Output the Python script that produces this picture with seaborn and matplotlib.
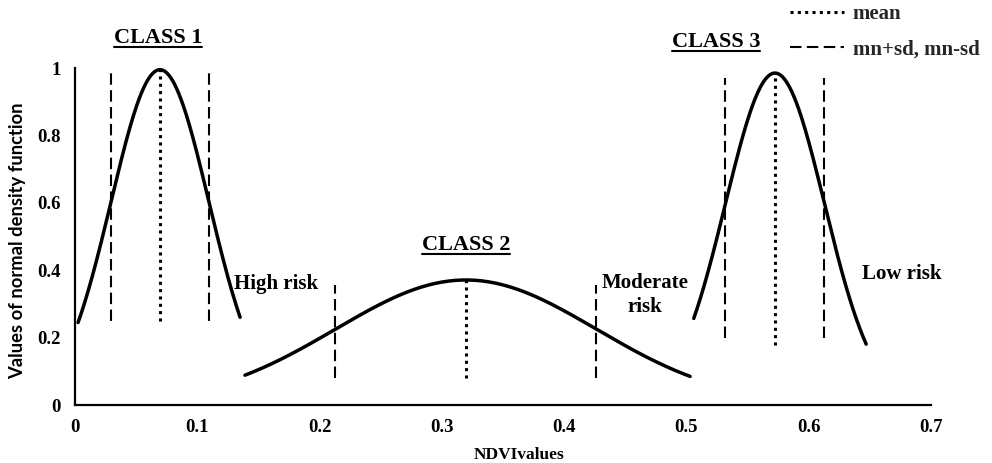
import numpy as np
import pandas as pd
import matplotlib
matplotlib.use("Agg")
import matplotlib.pyplot as plt
from matplotlib.lines import Line2D
from matplotlib.transforms import IdentityTransform
import seaborn as sns

# ---- data ----
classes = ["CLASS 1", "CLASS 2", "CLASS 3"]
means = [0.0695, 0.3197, 0.5724]
sds = [0.0400, 0.1067, 0.0405]
peaks = [0.995, 0.371, 0.985]
x_start = [0.0025, 0.139, 0.506]
x_end = [0.135, 0.503, 0.647]
line_bottom = [0.25, 0.08, 0.20]     # lower end of sd guide lines
mean_bottom = [0.25, 0.08, 0.178]    # lower end of mean guide lines
sd_top = [0.994, 0.356, 0.97]
label_pos_x = [0.068, 0.3197, 0.524]
label_pos_y = [1.089, 0.475, 1.076]
risk_labels = ["High risk", "Moderate\nrisk", "Low risk"]
risk_x = [0.130, 0.4661, 0.6435]
risk_y = [0.359, 0.326, 0.390]
risk_ha = ["left", "center", "left"]
xticks = [0, 0.1, 0.2, 0.3, 0.4, 0.5, 0.6, 0.7]
xticklabels = ["0", "0.1", "0.2", "0.3", "0.4", "0.5", "0.6", "0.7"]
yticks = [0, 0.2, 0.4, 0.6, 0.8, 1]
yticklabels = ["0", "0.2", "0.4", "0.6", "0.8", "1"]

# normal density curves (scaled to peak), evaluated on each class' x range
frames = []
for c, m, s, p, a, b in zip(classes, means, sds, peaks, x_start, x_end):
    xs = np.linspace(a, b, 200)
    frames.append(pd.DataFrame({"x": xs, "y": p * np.exp(-0.5 * ((xs - m) / s) ** 2), "cls": c}))
df = pd.concat(frames, ignore_index=True)

sns.set_theme(style="white")
serif = ["Liberation Serif", "DejaVu Serif"]
plt.rcParams["font.family"] = serif
plt.rcParams["font.weight"] = "bold"

fig = plt.figure(figsize=(9.92, 4.63), dpi=100)
ax = fig.add_axes([75 / 992, (463 - 405) / 463, 856 / 992, 337 / 463])

sns.lineplot(data=df, x="x", y="y", units="cls", estimator=None, color="black",
             lw=2.5, ax=ax, legend=False, sort=False)

for i in range(3):
    ax.vlines(means[i], mean_bottom[i], peaks[i], colors="black", lw=2.2,
              linestyles=(0, (1, 1.4)), label="mean" if i == 0 else None)
    ax.vlines([means[i] - sds[i], means[i] + sds[i]], line_bottom[i], sd_top[i],
              colors="black", lw=1.5, linestyles=(0, (5.5, 2.6)),
              label="mn+sd, mn-sd" if i == 0 else None)

ax.set_xlim(0, 0.7)
ax.set_ylim(0, 1)
ax.set_xticks(xticks)
ax.set_xticklabels(xticklabels)
ax.set_yticks(yticks)
ax.set_yticklabels(yticklabels)
ax.tick_params(axis="both", length=0, labelsize=13.5, colors="black")
ax.tick_params(axis="x", pad=10)
ax.tick_params(axis="y", pad=10)
for lab in ax.get_xticklabels() + ax.get_yticklabels():
    lab.set_fontweight("bold")

for side in ["top", "right"]:
    ax.spines[side].set_visible(False)
for side in ["left", "bottom"]:
    ax.spines[side].set_color("black")
    ax.spines[side].set_linewidth(1.6)

ax.set_xlabel("NDVIvalues", fontsize=12.5, fontweight="bold", color="black")
ax.xaxis.set_label_coords((519 - 75) / 856, -0.125)
ax.set_ylabel("Values of normal density function", fontsize=13.2, fontweight="bold",
              color="black", family=["Lato", "DejaVu Sans"])
ax.yaxis.set_label_coords(-0.057, 0.487)

class_texts = []
for c, x, y in zip(classes, label_pos_x, label_pos_y):
    t = ax.text(x, y, c, ha="center", va="center", fontsize=16, fontweight="bold",
                color="black", clip_on=False)
    class_texts.append(t)

for lab, x, y, ha in zip(risk_labels, risk_x, risk_y, risk_ha):
    ax.text(x, y, lab, ha=ha, va="center", fontsize=15, fontweight="bold",
            color="black", linespacing=1.25, multialignment="center")

handles, labels = ax.get_legend_handles_labels()
leg = fig.legend(handles, labels, loc="upper right", bbox_to_anchor=(1.0, 1.018),
                 frameon=False, fontsize=15, handlelength=2.6, handletextpad=0.4,
                 labelspacing=0.75, borderaxespad=0.2)
for t in leg.get_texts():
    t.set_fontweight("bold")

fig.canvas.draw()
renderer = fig.canvas.get_renderer()
for t in class_texts:
    bb = t.get_window_extent(renderer)
    fig.add_artist(Line2D([bb.x0, bb.x1], [bb.y0 + 1, bb.y0 + 1], color="black",
                          lw=1.5, transform=IdentityTransform()))

fig.savefig("out.png", dpi=100)
